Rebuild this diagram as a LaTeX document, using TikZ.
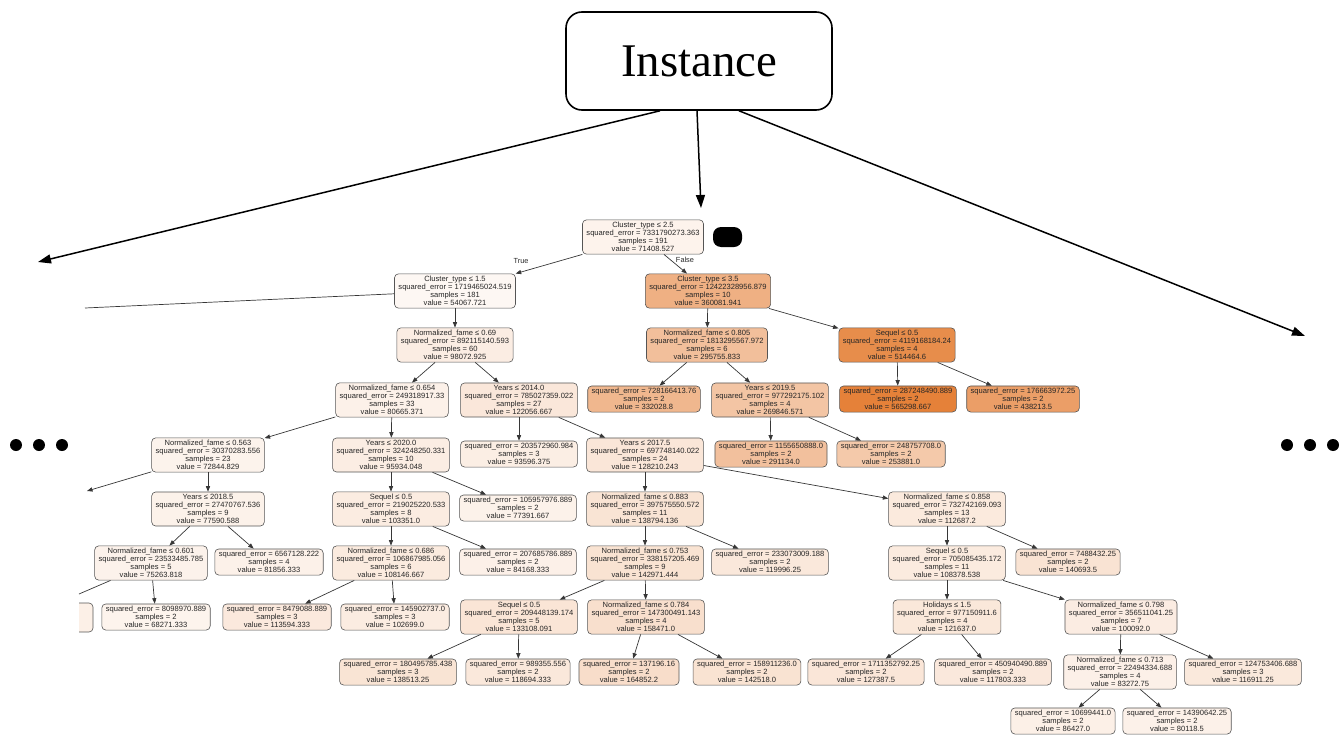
\documentclass[tikz,border=0pt]{standalone}
\usepackage{fontspec}
\setmainfont{Liberation Sans}
\newfontfamily\instfont{Liberation Serif}
\usetikzlibrary{arrows.meta}
\definecolor{tcol}{RGB}{229,129,57}
\definecolor{bord}{RGB}{85,85,85}
\definecolor{edgec}{RGB}{55,55,55}
\newcommand\splitn[4]{#1\\squared\_error = #2\\samples = #3\\value = #4}
\newcommand\leafn[3]{squared\_error = #1\\samples = #2\\value = #3}
\begin{document}
\begin{tikzpicture}[x=1bp,y=-1bp,
  tn/.style={draw=bord, line width=0.6bp, rounded corners=4bp, fill=tcol!#1!white,
    align=center, font=\fontsize{7.6}{8.2}\selectfont, inner xsep=4bp, inner ysep=2.1bp, text=black!85},
  tedge/.style={draw=edgec, line width=0.7bp, -{Triangle[length=5.5bp,width=4.2bp]}},
  tline/.style={draw=edgec, line width=0.7bp},
  bigarrow/.style={line width=1.5bp, -{Triangle[length=13bp,width=9bp]}},
  elabel/.style={font=\fontsize{7.4}{8}\selectfont, text=black!85},
  dotc/.style={fill=black},
]
\useasboundingbox (0,0) rectangle (1344,736);

% Instance box and arrows
\node[draw, line width=1.6bp, rounded corners=16bp, minimum width=266bp, minimum height=98bp,
  inner sep=0, font=\instfont\fontsize{47}{50}\selectfont] (inst) at (699,61) {Instance};
\coordinate (lt) at (38,262);
\coordinate (mt) at (701,208);
\coordinate (rt) at (1305,336);
\draw[bigarrow] ([xshift=-39bp]inst.south) -- (lt);
\draw[bigarrow] ([xshift=-2bp]inst.south) -- (mt);
\draw[bigarrow] ([xshift=40bp]inst.south) -- (rt);

% dots
\fill[dotc] (16,445) circle (6bp);
\fill[dotc] (39,445) circle (6bp);
\fill[dotc] (62,445) circle (6bp);
\fill[dotc] (1287,445) circle (6bp);
\fill[dotc] (1310,445) circle (6bp);
\fill[dotc] (1333,445) circle (6bp);

% black blob
\node[fill=black, rounded corners=8bp, minimum width=29bp, minimum height=20bp, inner sep=0] (blk) at (727.5,237) {};

% tree nodes
\node[tn=9.4] (r) at (643,237) {\splitn{Cluster\_type ≤ 2.5}{7331790273.363}{191}{71408.527}};
\node[tn=6.2] (a1) at (455,291) {\splitn{Cluster\_type ≤ 1.5}{1719465024.519}{181}{54067.721}};
\node[tn=62.4] (b1) at (708,291) {\splitn{Cluster\_type ≤ 3.5}{12422328956.879}{10}{360081.941}};
\node[tn=14.3] (a2) at (455,345) {\splitn{Normalized\_fame ≤ 0.69}{892115140.593}{60}{98072.925}};
\node[tn=50.6] (b2) at (707,345) {\splitn{Normalized\_fame ≤ 0.805}{1813295567.972}{6}{295755.833}};
\node[tn=90.7] (c2) at (897,345) {\splitn{Sequel ≤ 0.5}{4119168184.24}{4}{514464.6}};
\node[tn=11.1] (a3) at (392,400) {\splitn{Normalized\_fame ≤ 0.654}{249318917.33}{33}{80665.371}};
\node[tn=18.7] (b3) at (519,400) {\splitn{Years ≤ 2014.0}{785027359.022}{27}{122056.667}};
\node[tn=57.2] (c3) at (644,399) {\leafn{728166413.76}{2}{332028.8}};
\node[tn=45.8] (d3) at (770,400) {\splitn{Years ≤ 2019.5}{977292175.102}{4}{269846.571}};
\node[tn=100] (e3) at (898,399) {\leafn{287248490.889}{2}{565298.667}};
\node[tn=76.7] (f3) at (1023,399) {\leafn{176663972.25}{2}{438213.5}};
\node[tn=9.7] (a4) at (208,455) {\splitn{Normalized\_fame ≤ 0.563}{30370283.556}{23}{72844.829}};
\node[tn=13.9] (b4) at (391,455) {\splitn{Years ≤ 2020.0}{324248250.331}{10}{95934.048}};
\node[tn=13.5] (c4) at (519,454) {\leafn{203572960.984}{3}{93596.375}};
\node[tn=19.8] (d4) at (645,455) {\splitn{Years ≤ 2017.5}{697748140.022}{24}{128210.243}};
\node[tn=49.7] (e4) at (771,454) {\leafn{1155650888.0}{2}{291134.0}};
\node[tn=42.9] (f4) at (891,454) {\leafn{248757708.0}{2}{253881.0}};
\node[tn=10.6] (a5) at (208,509) {\splitn{Years ≤ 2018.5}{27470767.536}{9}{77590.588}};
\node[tn=15.3] (b5) at (391,509) {\splitn{Sequel ≤ 0.5}{219025220.533}{8}{103351.0}};
\node[tn=10.5] (c5) at (518,508) {\leafn{105957976.889}{2}{77391.667}};
\node[tn=21.8] (d5) at (645,509) {\splitn{Normalized\_fame ≤ 0.883}{397575550.572}{11}{138794.136}};
\node[tn=17.0] (e5) at (947,509) {\splitn{Normalized\_fame ≤ 0.858}{732742169.093}{13}{112687.2}};
\node[tn=10.1] (a6) at (151,563) {\splitn{Normalized\_fame ≤ 0.601}{23533485.785}{5}{75263.818}};
\node[tn=11.3] (b6) at (269,562) {\leafn{6567128.222}{4}{81856.333}};
\node[tn=16.2] (c6) at (391,563) {\splitn{Normalized\_fame ≤ 0.686}{106867985.056}{6}{108146.667}};
\node[tn=11.8] (d6) at (518,562) {\leafn{207685786.889}{2}{84168.333}};
\node[tn=22.6] (e6) at (645,563) {\splitn{Normalized\_fame ≤ 0.753}{338157205.469}{9}{142971.444}};
\node[tn=18.3] (f6) at (770,562) {\leafn{233073009.188}{2}{119996.25}};
\node[tn=16.2] (g6) at (947,563) {\splitn{Sequel ≤ 0.5}{705085435.172}{11}{108378.538}};
\node[tn=22.1] (h6) at (1068,562) {\leafn{7488432.25}{2}{140693.5}};
\node[tn=8.9] (a7) at (156,617) {\leafn{8098970.889}{2}{68271.333}};
\node[tn=17.2] (b7) at (277,617) {\leafn{8479088.889}{3}{113594.333}};
\node[tn=15.2] (c7) at (395,617) {\leafn{145902737.0}{3}{102699.0}};
\node[tn=20.7] (d7) at (519,617) {\splitn{Sequel ≤ 0.5}{209448139.174}{5}{133108.091}};
\node[tn=25.4] (e7) at (646,617) {\splitn{Normalized\_fame ≤ 0.784}{147300491.143}{4}{158471.0}};
\node[tn=18.6] (f7) at (947,617) {\splitn{Holidays ≤ 1.5}{977150911.6}{4}{121637.0}};
\node[tn=14.7] (g7) at (1121,617) {\splitn{Normalized\_fame ≤ 0.798}{356511041.25}{7}{100092.0}};
\node[tn=21.7] (a8) at (398,672) {\leafn{180495785.438}{3}{138513.25}};
\node[tn=18.1] (b8) at (518,672) {\leafn{989355.556}{2}{118694.333}};
\node[tn=26.6] (c8) at (629,672) {\leafn{137196.16}{2}{164852.2}};
\node[tn=22.5] (d8) at (747,672) {\leafn{158911236.0}{2}{142518.0}};
\node[tn=19.7] (e8) at (866,672) {\leafn{1711352792.25}{2}{127387.5}};
\node[tn=17.9] (f8) at (993,672) {\leafn{450940490.889}{2}{117803.333}};
\node[tn=11.6] (g8) at (1120,672) {\splitn{Normalized\_fame ≤ 0.713}{22494334.688}{4}{83272.75}};
\node[tn=17.8] (h8) at (1243,672) {\leafn{124753406.688}{3}{116911.25}};
\node[tn=12.2] (a9) at (1063,721) {\leafn{10699441.0}{2}{86427.0}};
\node[tn=11.0] (b9) at (1177,721) {\leafn{14390642.25}{2}{80118.5}};

% partial box cut at the left edge
\begin{scope}
\clip (79,595) rectangle (100,640);
\draw[draw=bord, fill=tcol!12!white, rounded corners=4bp, line width=0.6bp] (20,603) rectangle (93,632);
\end{scope}

% edge labels
\node[elabel] (tlab) at (521,261) {True};
\node[elabel] (flab) at (685,260) {False};

% off-picture ends
\coordinate (offa1) at (85,308);
\coordinate (offa4) at (87,491);
\coordinate (offa6) at (79,594);

% edges
\draw[tedge] (r) -- (a1);
\draw[tedge] (r) -- (b1);
\draw[tline] (a1) -- (offa1);
\draw[tedge] (a1) -- (a2);
\draw[tedge] (b1) -- (b2);
\draw[tedge] (b1) -- (c2);
\draw[tedge] (a2) -- (a3);
\draw[tedge] (a2) -- (b3);
\draw[tedge] (b2) -- (c3);
\draw[tedge] (b2) -- (d3);
\draw[tedge] (c2) -- (e3);
\draw[tedge] (c2) -- (f3);
\draw[tedge] (a3) -- (a4);
\draw[tedge] (a3) -- (b4);
\draw[tedge] (b3) -- (c4);
\draw[tedge] (b3) -- (d4);
\draw[tedge] (d3) -- (e4);
\draw[tedge] (d3) -- (f4);
\draw[tedge] (a4) -- (offa4);
\draw[tedge] (a4) -- (a5);
\draw[tedge] (b4) -- (b5);
\draw[tedge] (b4) -- (c5);
\draw[tedge] (d4) -- (d5);
\draw[tedge] (d4) -- (e5);
\draw[tedge] (a5) -- (a6);
\draw[tedge] (a5) -- (b6);
\draw[tedge] (b5) -- (c6);
\draw[tedge] (b5) -- (d6);
\draw[tedge] (d5) -- (e6);
\draw[tedge] (d5) -- (f6);
\draw[tedge] (e5) -- (g6);
\draw[tedge] (e5) -- (h6);
\draw[tline] (a6) -- (offa6);
\draw[tedge] (a6) -- (a7);
\draw[tedge] (c6) -- (b7);
\draw[tedge] (c6) -- (c7);
\draw[tedge] (e6) -- (d7);
\draw[tedge] (e6) -- (e7);
\draw[tedge] (g6) -- (f7);
\draw[tedge] (g6) -- (g7);
\draw[tedge] (d7) -- (a8);
\draw[tedge] (d7) -- (b8);
\draw[tedge] (e7) -- (c8);
\draw[tedge] (e7) -- (d8);
\draw[tedge] (f7) -- (e8);
\draw[tedge] (f7) -- (f8);
\draw[tedge] (g7) -- (g8);
\draw[tedge] (g7) -- (h8);
\draw[tedge] (g8) -- (a9);
\draw[tedge] (g8) -- (b9);
\end{tikzpicture}
\end{document}
